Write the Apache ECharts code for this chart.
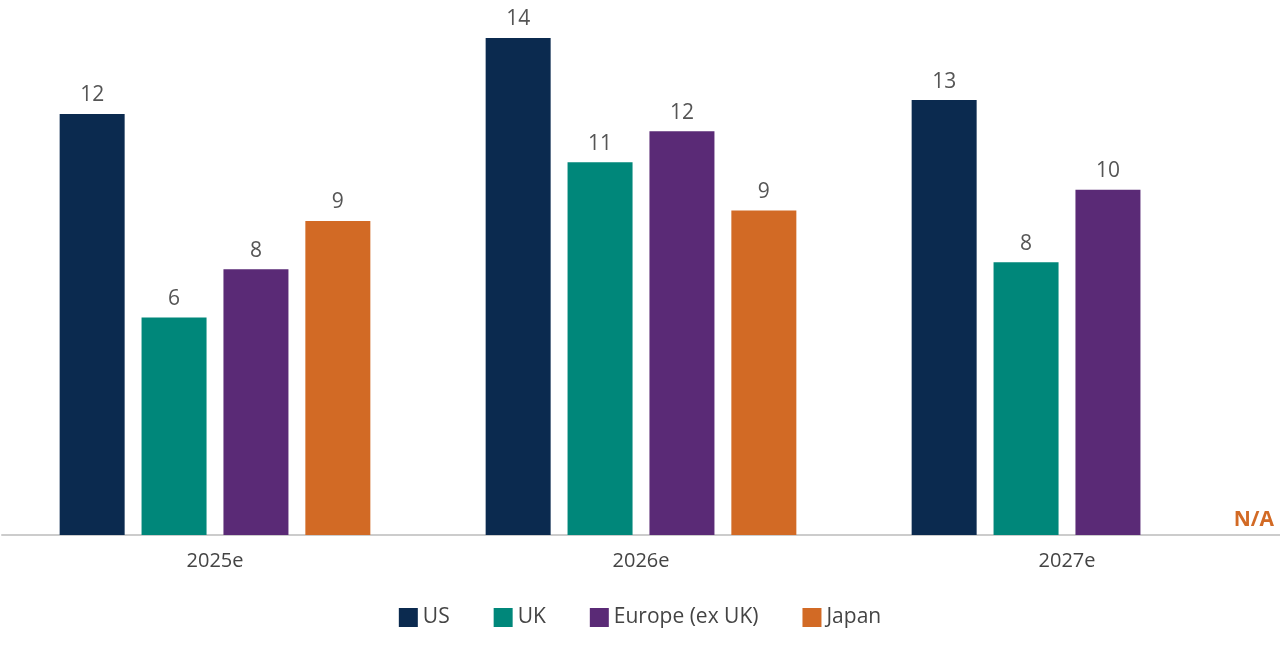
<!DOCTYPE html>
<html><head><meta charset="utf-8">
<script src="https://cdn.jsdelivr.net/npm/echarts@6/dist/echarts.min.js"></script>
<style>html,body{margin:0;padding:0;background:#fff}#c{width:1280px;height:647px}</style>
</head><body><div id="c"></div>
<script>
const categories = ['2025e','2026e','2027e'];
const us = [12.2, 14.4, 12.6];
const uk = [6.3, 10.8, 7.9];
const europe = [7.7, 11.7, 10.0];
const japan = [9.1, 9.4, null];
const names = ['US','UK','Europe (ex UK)','Japan'];
const colors = ['#0b2a4f','#00877a','#5a2a76','#d26a25'];
const font = '"Open Sans", sans-serif';
const mk = (n, d, c) => ({
  name: n, type: 'bar', data: d, barWidth: 65, barGap: '26%', barCategoryGap: '31%',
  itemStyle: {color: c},
  label: {show: true, position: 'top', distance: 8, color: '#555', fontSize: 21, fontFamily: font,
    formatter: p => Math.round(p.value)}
});
const chart = echarts.init(document.getElementById('c'));
chart.setOption({
  animation: false,
  grid: {left: 2, width: 1351, top: 0, bottom: 112},
  legend: {bottom: 14, left: 'center', itemWidth: 19, itemHeight: 19, itemGap: 44,
    icon: 'rect', textStyle: {fontSize: 21, color: '#444', fontFamily: font}},
  xAxis: {type: 'category', data: categories,
    axisLine: {lineStyle: {color: '#ccc', width: 2}}, axisTick: {show: false},
    axisLabel: {fontSize: 20, color: '#444', margin: 16, fontFamily: font}},
  yAxis: {type: 'value', min: 0, max: 15.5, show: false, splitLine: {show: false}},
  series: [mk(names[0], us, colors[0]), mk(names[1], uk, colors[1]), mk(names[2], europe, colors[2]), mk(names[3], japan, colors[3])],
  graphic: [{type: 'text', right: 6, top: 510, style: {text: 'N/A', fill: '#d26a25', font: 'bold 21px ' + font}}]
});
</script></body></html>
